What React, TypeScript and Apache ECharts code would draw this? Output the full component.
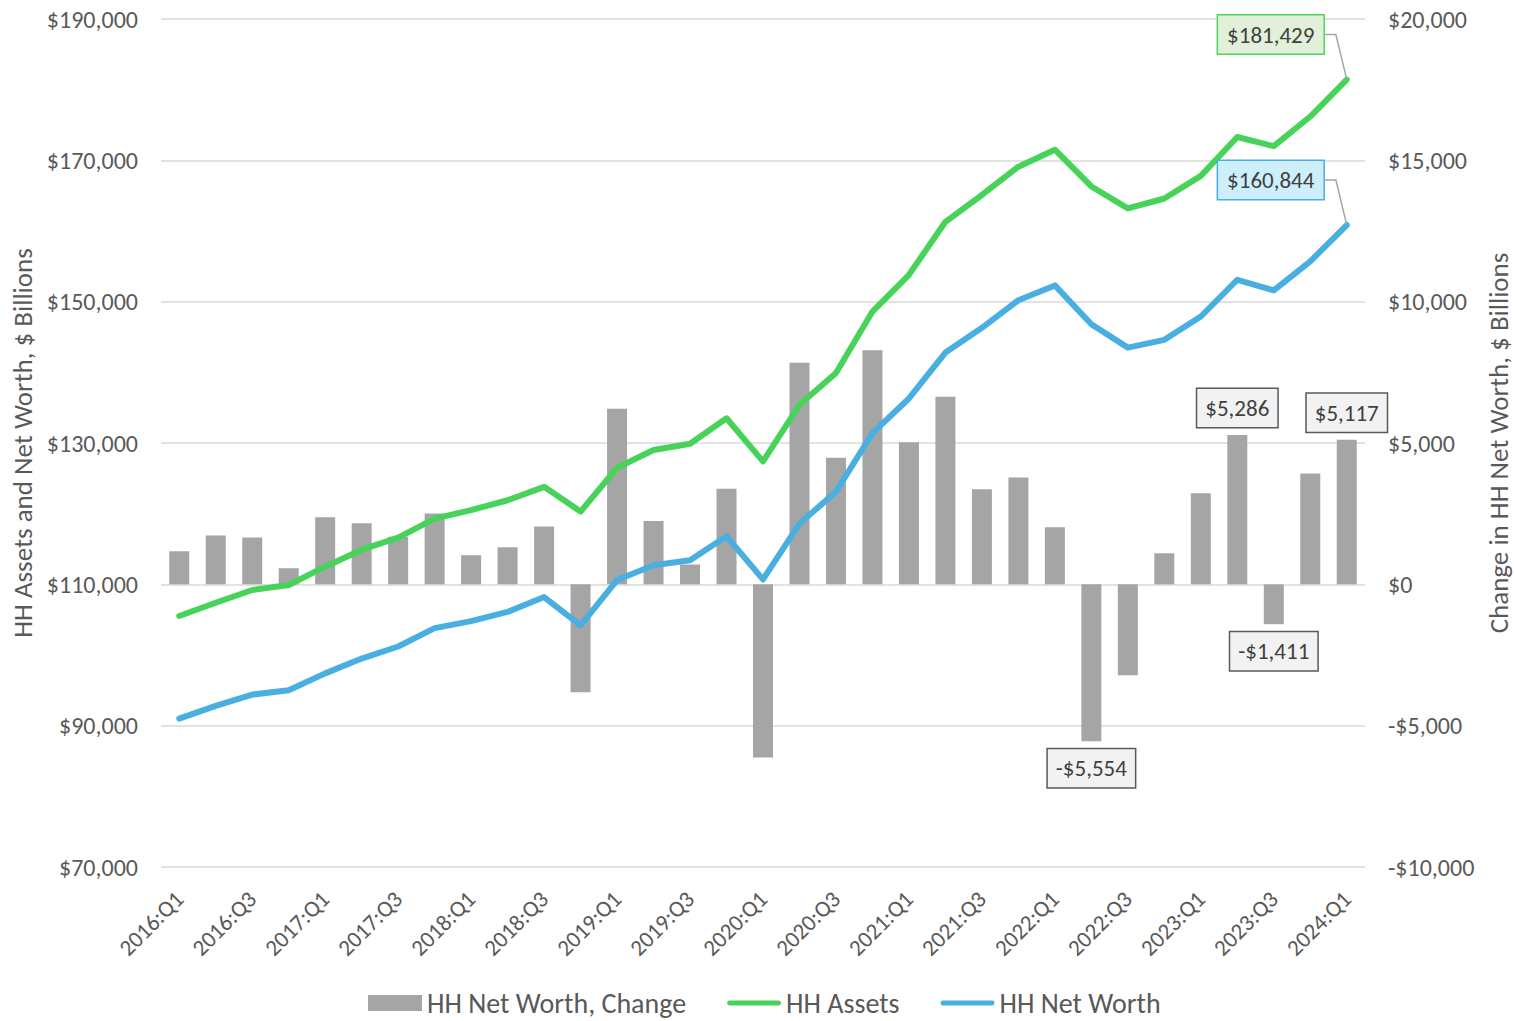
import React, { useEffect, useRef } from "react";
import * as echarts from "echarts";

const categories = [
  "2016:Q1", "2016:Q2", "2016:Q3", "2016:Q4",
  "2017:Q1", "2017:Q2", "2017:Q3", "2017:Q4",
  "2018:Q1", "2018:Q2", "2018:Q3", "2018:Q4",
  "2019:Q1", "2019:Q2", "2019:Q3", "2019:Q4",
  "2020:Q1", "2020:Q2", "2020:Q3", "2020:Q4",
  "2021:Q1", "2021:Q2", "2021:Q3", "2021:Q4",
  "2022:Q1", "2022:Q2", "2022:Q3", "2022:Q4",
  "2023:Q1", "2023:Q2", "2023:Q3", "2023:Q4",
  "2024:Q1",
];

const hhAssets = [
  105520, 107400, 109200, 109900, 112500, 114900, 116600, 119300,
  120500, 121900, 123800, 120300, 126500, 129000, 129900, 133500,
  127400, 135400, 139900, 148600, 153800, 161300, 165100, 169100,
  171500, 166300, 163200, 164600, 167800, 173300, 172000, 176200,
  181429,
];

const hhNetWorth = [
  91000, 92800, 94400, 95000, 97400, 99500, 101200, 103800,
  104800, 106100, 108200, 104200, 110600, 112700, 113400, 116800,
  110700, 118600, 123100, 131400, 136300, 142800, 146300, 150200,
  152300, 146800, 143500, 144600, 147900, 153100, 151600, 155700,
  160844,
];

const hhNetWorthChange = [
  1170, 1730, 1660, 570, 2370, 2160, 1680, 2510,
  1030, 1310, 2050, -3820, 6210, 2240, 700, 3380,
  -6130, 7840, 4480, 8280, 5030, 6640, 3360, 3780,
  2020, -5554, -3220, 1100, 3220, 5286, -1411, 3920,
  5117,
];

const labeledBarCategories = ["2022:Q2", "2023:Q2", "2023:Q3", "2024:Q1"];

const leftTicks = { min: 70000, max: 190000, interval: 20000 };
const rightTicks = { min: -10000, max: 20000, interval: 5000 };

const FONT = "Carlito, Calibri, Lato, sans-serif";
const TEXT = "#595959";
const LABEL_TEXT = "#404040";
const GREEN = "#47d35a";
const BLUE = "#49afe0";
const GRAY = "#a5a5a5";
const GRID = "#d9d9d9";
const PILL = "path://M2.5,0 L53.5,0 A2.5,2.5 0 0 1 53.5,5 L2.5,5 A2.5,2.5 0 0 1 2.5,0 Z";

const money = (v: number) =>
  (v < 0 ? "-" : "") + "$" + Math.abs(Math.round(v)).toLocaleString("en-US");

export default function App() {
  const ref = useRef<HTMLDivElement>(null);

  useEffect(() => {
    if (!ref.current) return;
    const chart = echarts.init(ref.current, undefined, { renderer: "svg" });

    const barData = hhNetWorthChange.map((v, i) => {
      if (labeledBarCategories.includes(categories[i])) {
        return {
          value: v,
          label: {
            show: true,
            position: v < 0 ? "bottom" : "top",
            distance: 8,
            formatter: () => money(v),
            fontFamily: FONT,
            fontSize: 23,
            lineHeight: 24,
            color: LABEL_TEXT,
            backgroundColor: "#f2f2f2",
            borderColor: "#595959",
            borderWidth: 1.5,
            padding: [7, 8, 7, 8],
          },
        };
      }
      return v;
    });

    const lineData = (arr: number[], bg: string, border: string) =>
      arr.map((v, i) =>
        i === arr.length - 1
          ? {
              value: v,
              symbol: "circle",
              symbolSize: 2,
              label: {
                show: true,
                position: "inside",
                formatter: () => money(v),
                fontFamily: FONT,
                fontSize: 23,
                lineHeight: 24,
                color: LABEL_TEXT,
                backgroundColor: bg,
                borderColor: border,
                borderWidth: 1.5,
                padding: [7, 9, 7, 9],
              },
            }
          : v
      );

    const leaderLine = {
      show: true,
      length2: 11,
      minTurnAngle: 0,
      lineStyle: { color: "#a6a6a6", width: 1.5 },
    };

    chart.setOption({
      animation: false,
      textStyle: { fontFamily: FONT },
      grid: {
        left: 161,
        right: 149,
        top: 19,
        bottom: 154,
        containLabel: false,
        outerBoundsMode: "none",
      },
      legend: {
        top: 984,
        left: 363,
        itemWidth: 54,
        itemHeight: 16,
        itemGap: 41,
        textStyle: { fontFamily: FONT, fontSize: 28, color: TEXT },
        data: [
          { name: "HH Net Worth, Change", icon: "rect" },
          { name: "HH Assets", icon: PILL },
          { name: "HH Net Worth", icon: PILL },
        ],
      },
      xAxis: {
        type: "category",
        data: categories,
        boundaryGap: true,
        axisLine: { show: false },
        axisTick: { show: false },
        axisLabel: {
          interval: 1,
          rotate: 45,
          fontSize: 23,
          color: TEXT,
          fontFamily: FONT,
          margin: 28,
        },
      },
      yAxis: [
        {
          type: "value",
          min: leftTicks.min,
          max: leftTicks.max,
          interval: leftTicks.interval,
          name: "HH Assets and Net Worth, $ Billions",
          nameLocation: "middle",
          nameRotate: 90,
          nameGap: 122,
          nameTextStyle: { fontFamily: FONT, fontSize: 27, color: TEXT },
          axisLine: { show: false },
          axisTick: { show: false },
          axisLabel: {
            formatter: (v: number) => money(v),
            fontSize: 24,
            color: TEXT,
            fontFamily: FONT,
            margin: 23,
          },
          splitLine: { lineStyle: { color: GRID, width: 1.5 } },
        },
        {
          type: "value",
          min: rightTicks.min,
          max: rightTicks.max,
          interval: rightTicks.interval,
          position: "right",
          name: "Change in HH Net Worth, $ Billions",
          nameLocation: "middle",
          nameRotate: 90,
          nameGap: 119,
          nameTextStyle: { fontFamily: FONT, fontSize: 27, color: TEXT },
          axisLine: { show: false },
          axisTick: { show: false },
          axisLabel: {
            formatter: (v: number) => money(v),
            fontSize: 24,
            color: TEXT,
            fontFamily: FONT,
            margin: 23,
          },
          splitLine: { show: false },
        },
      ],
      series: [
        {
          name: "HH Net Worth, Change",
          type: "bar",
          yAxisIndex: 1,
          barWidth: 20,
          itemStyle: { color: GRAY },
          data: barData,
          z: 1,
        },
        {
          name: "HH Assets",
          type: "line",
          yAxisIndex: 0,
          symbol: "none",
          showSymbol: true,
          lineStyle: { color: GREEN, width: 6, cap: "round", join: "round" },
          itemStyle: { color: GREEN },
          data: lineData(hhAssets, "#e2f0d9", "#4bd65c"),
          labelLayout: { dx: -76, dy: -45 },
          labelLine: leaderLine,
          z: 3,
        },
        {
          name: "HH Net Worth",
          type: "line",
          yAxisIndex: 0,
          symbol: "none",
          showSymbol: true,
          lineStyle: { color: BLUE, width: 6, cap: "round", join: "round" },
          itemStyle: { color: BLUE },
          data: lineData(hhNetWorth, "#cdeffc", "#4aaee0"),
          labelLayout: { dx: -76, dy: -45 },
          labelLine: leaderLine,
          z: 3,
        },
      ],
    });

    return () => chart.dispose();
  }, []);

  return (
    <div
      ref={ref}
      style={{ position: "absolute", left: 0, top: 0, width: 1514, height: 1021, background: "#ffffff" }}
    />
  );
}
